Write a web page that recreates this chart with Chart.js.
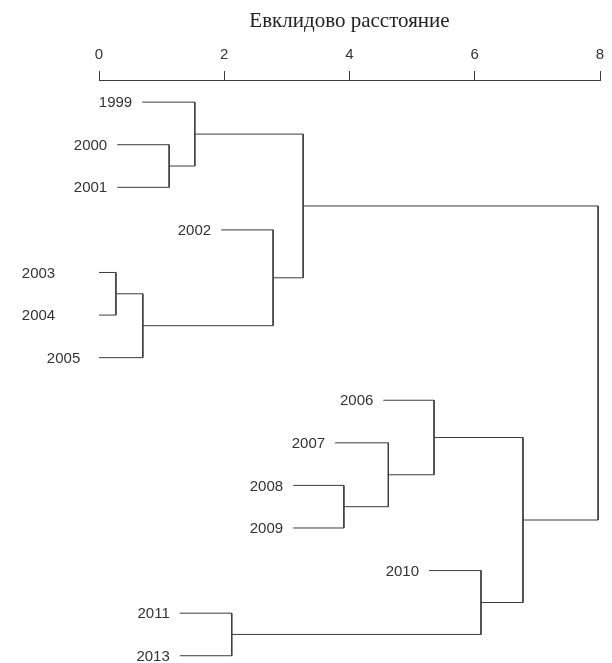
<!DOCTYPE html>
<html>
<head>
<meta charset="utf-8">
<title>Евклидово расстояние</title>
<script src="https://cdn.jsdelivr.net/npm/chart.js@4/dist/chart.umd.min.js"></script>
<style>
	html, body { margin: 0; padding: 0; background: #fff; }
	#tree { display: block; }
</style>
</head>
<body>
<canvas id="tree" width="612" height="663"></canvas>
<script>
(function() {
	"use strict";

	// leaves, top to bottom
	var years = ["1999", "2000", "2001", "2002", "2003", "2004", "2005",
		"2006", "2007", "2008", "2009", "2010", "2011", "2013"];
	// where each leaf line starts on the distance axis
	var leafStart = [0.69, 0.29, 0.29, 1.95, 0, 0, 0, 4.54, 3.77, 3.10, 3.10, 5.27, 1.29, 1.29];
	// where each label ends (the lines of 2003-2005 are cut at 0, their labels are not)
	var labelAt = [0.69, 0.29, 0.29, 1.95, -0.54, -0.54, -0.14, 4.54, 3.77, 3.10, 3.10, 5.27, 1.29, 1.29];

	// merges: ids < 14 are leaves, merge k gets id 14 + k
	var mergeLeft = [4, 1, 9, 14, 0, 12, 3, 18, 8, 7, 11, 23, 21];
	var mergeRight = [5, 2, 10, 6, 15, 13, 17, 20, 16, 22, 19, 24, 25];
	var mergeHeight = [0.27, 1.12, 3.91, 0.70, 1.53, 2.12, 2.78, 3.26, 4.62, 5.35, 6.10, 6.77, 7.97];

	var axisTicks = [0, 2, 4, 6, 8];
	var axisTitle = "Евклидово расстояние";

	var LINE = "#3c3c3c";

	document.addEventListener("DOMContentLoaded", function() {
		var nodeX = leafStart.slice();
		var nodeY = years.map(function(y, i) { return i; });
		var datasets = [];

		for (var k = 0; k < mergeHeight.length; k++) {
			var a = mergeLeft[k], b = mergeRight[k], h = mergeHeight[k];
			datasets.push({
				data: [
					{ x: nodeX[a], y: nodeY[a] },
					{ x: h, y: nodeY[a] },
					{ x: h, y: nodeY[b] },
					{ x: nodeX[b], y: nodeY[b] }
				],
				showLine: true,
				borderColor: LINE,
				borderWidth: 1,
				pointRadius: 0,
				tension: 0,
				clip: false
			});
			nodeX.push(h);
			nodeY.push((nodeY[a] + nodeY[b]) / 2);
		}

		var leafLabels = {
			id: "leafLabels",
			afterDatasetsDraw: function(chart) {
				var ctx = chart.ctx;
				var xs = chart.scales.x, ys = chart.scales.y;
				ctx.save();
				ctx.font = "15px 'Liberation Sans', Arial, sans-serif";
				ctx.fillStyle = "#333";
				ctx.textAlign = "right";
				ctx.textBaseline = "middle";
				for (var i = 0; i < years.length; i++) {
					ctx.fillText(years[i], xs.getPixelForValue(labelAt[i]) - 10, ys.getPixelForValue(i) + 1);
				}
				ctx.restore();
			}
		};

		new Chart(document.getElementById("tree").getContext("2d"), {
			type: "scatter",
			data: { datasets: datasets },
			plugins: [leafLabels],
			options: {
				responsive: false,
				animation: false,
				layout: { padding: { left: 99, right: 12, top: 0, bottom: 3 } },
				plugins: {
					legend: { display: false },
					tooltip: { enabled: false }
				},
				scales: {
					x: {
						type: "linear",
						position: "top",
						min: 0,
						max: 8,
						afterBuildTicks: function(scale) {
							scale.ticks = axisTicks.map(function(v) { return { value: v }; });
						},
						afterFit: function(scale) { scale.height = 80; },
						grid: {
							drawOnChartArea: false,
							drawTicks: true,
							tickLength: 9,
							tickColor: LINE,
							tickWidth: 1
						},
						border: { display: true, color: LINE, width: 1 },
						ticks: {
							padding: 7,
							color: "#333",
							font: { family: "'Liberation Sans', Arial, sans-serif", size: 15 }
						},
						title: {
							display: true,
							text: axisTitle,
							color: "#222",
							padding: { top: 9, bottom: 0 },
							font: { family: "'Liberation Serif', 'Times New Roman', serif", size: 21 }
						}
					},
					y: {
						type: "linear",
						display: false,
						reverse: true,
						min: -0.52,
						max: 13.1
					}
				}
			}
		});
	});
}) ();
</script>
</body>
</html>
